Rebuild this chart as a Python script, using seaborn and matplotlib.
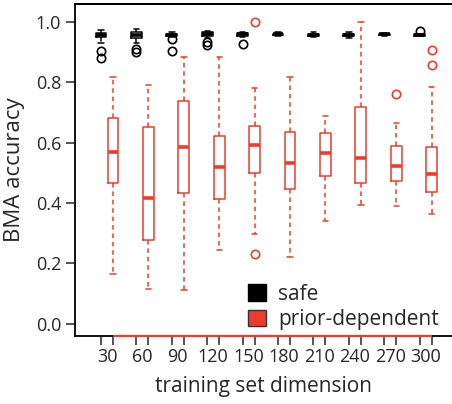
import numpy as np
import pandas as pd
import matplotlib
matplotlib.use("Agg")
import matplotlib.pyplot as plt
from matplotlib.lines import Line2D
from matplotlib.patches import Patch
from matplotlib.ticker import FormatStrFormatter
import seaborn as sns

# ================= DATA =================
dims = [30, 60, 90, 120, 150, 180, 210, 240, 270, 300]

# safe
safe_lo = [0.931, 0.930, 0.951, 0.948, 0.950, 0.954, 0.949, 0.948, 0.955, 0.953]
safe_q1 = [0.949, 0.947, 0.955, 0.955, 0.955, 0.957, 0.955, 0.954, 0.957, 0.955]
safe_med = [0.957, 0.957, 0.958, 0.960, 0.959, 0.960, 0.958, 0.958, 0.959, 0.957]
safe_q3 = [0.965, 0.966, 0.962, 0.966, 0.963, 0.962, 0.961, 0.962, 0.961, 0.960]
safe_hi = [0.973, 0.977, 0.966, 0.971, 0.968, 0.966, 0.966, 0.968, 0.963, 0.962]
safe_out = [[0.905, 0.880], [0.912, 0.900], [0.943, 0.905], [0.933, 0.925],
            [0.926], [], [], [], [], [0.969]]

# prior-dependent
prior_lo = [0.163, 0.114, 0.113, 0.243, 0.296, 0.222, 0.342, 0.395, 0.391, 0.362]
prior_q1 = [0.467, 0.279, 0.432, 0.414, 0.501, 0.448, 0.488, 0.467, 0.473, 0.435]
prior_med = [0.570, 0.416, 0.585, 0.520, 0.593, 0.533, 0.567, 0.548, 0.523, 0.497]
prior_q3 = [0.683, 0.653, 0.737, 0.623, 0.656, 0.636, 0.632, 0.718, 0.588, 0.586]
prior_hi = [0.819, 0.793, 0.884, 0.884, 0.782, 0.819, 0.690, 0.999, 0.665, 0.785]
prior_out = [[], [], [], [], [0.230, 1.000], [], [], [], [0.763], [0.909, 0.857]]

RED = "#ef3b2c"
WIDTH = 0.68
YLIM = (-0.041, 1.06)


def sample(lo, q1, med, q3, hi, out):
    # 13 sorted values: q1 at idx 3, median at idx 6, q3 at idx 9
    low_out = sorted(v for v in out if v < q1)
    high_out = sorted(v for v in out if v > q3)
    low = low_out + [lo] * (3 - len(low_out))
    high = [hi] * (3 - len(high_out)) + high_out
    return low + [q1, q1, med, med, med, q3, q3] + high


rows = []
for i, d in enumerate(dims):
    for v in sample(safe_lo[i], safe_q1[i], safe_med[i], safe_q3[i], safe_hi[i], safe_out[i]):
        rows.append((d, "safe", v))
    for v in sample(prior_lo[i], prior_q1[i], prior_med[i], prior_q3[i], prior_hi[i], prior_out[i]):
        rows.append((d, "prior-dependent", v))
df = pd.DataFrame(rows, columns=["dim", "type", "acc"])

# ================= PLOT =================
sns.set_style("ticks")
plt.rcParams["font.family"] = ["Open Sans", "DejaVu Sans"]

fig = plt.figure(figsize=(4.521, 4.04), dpi=100)
ax = fig.add_axes([75 / 452, 68 / 404, 377 / 452, 332 / 404])

sns.boxplot(
    data=df, x="dim", y="acc", hue="type",
    hue_order=["safe", "prior-dependent"],
    palette={"safe": "black", "prior-dependent": RED},
    fill=False, width=WIDTH, gap=0.1, whis=1.5, linewidth=1.1,
    whiskerprops=dict(linestyle=(0, (3, 2.5))),
    medianprops=dict(linewidth=2.6),
    flierprops=dict(marker="o", markerfacecolor="none", markersize=6,
                    markeredgewidth=1.2),
    legend=False, ax=ax,
)

off = WIDTH / 4
ax.set_xlim(-0.904, 9.746)
ax.set_ylim(*YLIM)
ax.set_yticks([0.0, 0.2, 0.4, 0.6, 0.8, 1.0])
ax.yaxis.set_major_formatter(FormatStrFormatter("%.1f"))

# labels at group centres, ticks at each box
ax.tick_params(axis="x", which="major", length=0, labelsize=13, pad=9)
ax.tick_params(axis="y", labelsize=13, length=6.5, width=1.1)
pos = np.arange(len(dims))
minor = np.concatenate([pos - off, pos + off])
ax.set_xticks(minor, minor=True)
ax.tick_params(axis="x", which="minor", length=6.5, width=1.1)
for t, loc in zip(ax.xaxis.get_minor_ticks(), minor):
    if loc > np.floor(loc + 0.5):
        t.tick1line.set_color(RED)

for s in ["left", "top", "bottom"]:
    ax.spines[s].set_visible(True)
    ax.spines[s].set_linewidth(1.3)
    ax.spines[s].set_color("black")
ax.spines["right"].set_visible(False)

# red axis line under the prior-dependent boxes
ax.plot([pos[0] + off, pos[-1] + off], [YLIM[0], YLIM[0]], color=RED,
        lw=1.6, clip_on=False, zorder=7, solid_capstyle="butt")

# box line along the top
bb = ax.get_position()
fig.add_artist(Line2D([bb.x0, 1], [bb.y1, bb.y1], color="black", lw=1.3,
                      transform=fig.transFigure))

ax.set_xlabel("training set dimension", fontsize=15, labelpad=7)
ax.set_ylabel("BMA accuracy", fontsize=16, labelpad=8)

handles = [Patch(facecolor="black", edgecolor="black", label="safe"),
           Patch(facecolor=RED, edgecolor="#333333", label="prior-dependent")]
ax.legend(handles=handles, loc="upper left", bbox_to_anchor=(0.437, 0.182),
          frameon=False, fontsize=15, handlelength=0.85, handleheight=0.85,
          handletextpad=0.6, labelspacing=0.2, borderaxespad=0)

fig.savefig("out.png", dpi=100)
